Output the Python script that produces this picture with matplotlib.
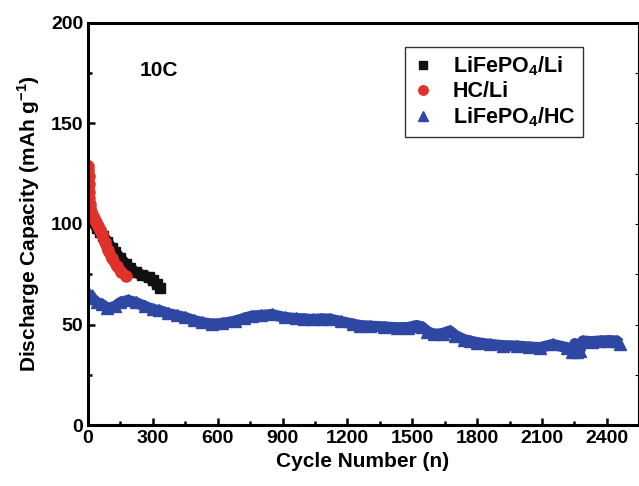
import matplotlib
matplotlib.use('Agg')
import matplotlib.pyplot as plt
from matplotlib.ticker import MultipleLocator

plt.rcParams['font.family'] = ['Liberation Sans', 'DejaVu Sans']
plt.rcParams['font.weight'] = 'bold'
plt.rcParams['mathtext.fontset'] = 'custom'
plt.rcParams['mathtext.rm'] = 'Liberation Sans:bold'
plt.rcParams['mathtext.bf'] = 'Liberation Sans:bold'

# LiFePO4/Li
lfp_li_cycle = [1, 10, 25, 40, 55, 70, 90, 110, 125, 150, 175, 194, 220, 250, 280, 300, 320, 335]
lfp_li_cap = [107, 104, 101, 98, 96, 94, 91, 88, 86, 83, 80, 78, 76, 74.5, 73.5, 72, 70, 68]

# HC/Li
hc_li_cycle = [1, 2, 3, 4, 5, 6, 8, 10, 15, 20, 28, 36, 45, 55, 64, 78, 92, 110, 133, 155, 175]
hc_li_cap = [129, 127, 124, 120, 116, 113, 110, 108, 106, 105, 103, 101, 99, 97, 95, 91, 87, 83, 79, 76, 74]

# LiFePO4/HC
lfp_hc_cycle = [1, 20, 40, 65, 90, 125, 150, 185, 220, 264, 300, 330, 370, 410, 449, 490, 527, 573,
                620, 680, 720, 758, 800, 850, 910, 960, 1000, 1040, 1080, 1119, 1170, 1225, 1260, 1304,
                1370, 1429, 1480, 1520, 1545, 1570, 1600, 1640, 1674, 1700, 1740, 1766, 1800, 1859,
                1920, 1984, 2040, 2090, 2150, 2215, 2240, 2252, 2262, 2275, 2289, 2330, 2368, 2410,
                2446, 2460]
lfp_hc_cap = [66, 63, 61, 60, 58, 59, 61, 62, 61, 59, 57.5, 57, 55.5, 54.5, 53.5, 52, 51, 50.2,
              50.5, 51.7, 53, 54.2, 54.5, 55, 53.5, 53, 52.8, 52.5, 52.8, 52.7, 51.5, 50.2, 49.5, 49.2,
              48.8, 48.4, 48.5, 49.5, 48.8, 46.5, 45.1, 45.5, 46.8, 44.5, 42.5, 41.8, 41, 40.1,
              39.5, 39.3, 38.8, 38.5, 40.1, 38.5, 36.5, 40.5, 36.5, 37, 41.8, 41.5, 41.8, 42,
              41.8, 40.5]

black = '#111111'
red = '#E0312A'
blue = '#2E47A3'

fig = plt.figure(figsize=(6.39, 4.86), dpi=100)
ax = fig.add_axes([0.1377, 0.1255, 0.8603, 0.8272])

# thick band + markers
ax.plot(lfp_li_cycle, lfp_li_cap, color=black, lw=8, solid_capstyle='butt')
ax.plot(lfp_li_cycle, lfp_li_cap, 's', color=black, ms=7.5, label=r'LiFePO$_{4}$/Li')
ax.plot(hc_li_cycle, hc_li_cap, color=red, lw=8, solid_capstyle='round')
ax.plot(hc_li_cycle, hc_li_cap, 'o', color=red, ms=8, label='HC/Li')
ax.plot(lfp_hc_cycle, lfp_hc_cap, color=blue, lw=8, solid_capstyle='butt')
ax.plot(lfp_hc_cycle, lfp_hc_cap, '^', color=blue, ms=8, label=r'LiFePO$_{4}$/HC')

ax.set_xlim(0, 2543)
ax.set_ylim(0, 200)
ax.xaxis.set_major_locator(MultipleLocator(300))
ax.xaxis.set_minor_locator(MultipleLocator(150))
ax.yaxis.set_major_locator(MultipleLocator(50))
ax.yaxis.set_minor_locator(MultipleLocator(25))
ax.tick_params(which='both', direction='in', top=False, right=True, labelsize=14, width=1.8)
ax.tick_params(which='major', length=5)
ax.tick_params(which='minor', length=3)
for t in ax.yaxis.get_ticklines(minor=False)[1::2] + ax.yaxis.get_ticklines(minor=True)[1::2]:
    t.set_markersize(2)
    t.set_markeredgewidth(0.8)

for s in ['left', 'bottom', 'top']:
    ax.spines[s].set_linewidth(2.2)
ax.spines['right'].set_linewidth(0.8)

ax.set_xlabel('Cycle Number (n)', fontsize=15, fontweight='bold', labelpad=4)
ax.set_ylabel(r'Discharge Capacity (mAh g$^{-1}$)', fontsize=15, fontweight='bold', labelpad=6)

ax.text(0.094, 0.883, '10C', transform=ax.transAxes, fontsize=15, fontweight='bold', va='center')

leg = ax.legend(loc='upper left', bbox_to_anchor=(0.576, 0.94), fontsize=15.5, frameon=True,
                fancybox=False, edgecolor='black', handlelength=1.0, handletextpad=0.9,
                borderpad=0.35, labelspacing=0.15, borderaxespad=0, markerscale=0.85)
leg.get_frame().set_linewidth(1.0)

fig.savefig('out.png', dpi=100)
